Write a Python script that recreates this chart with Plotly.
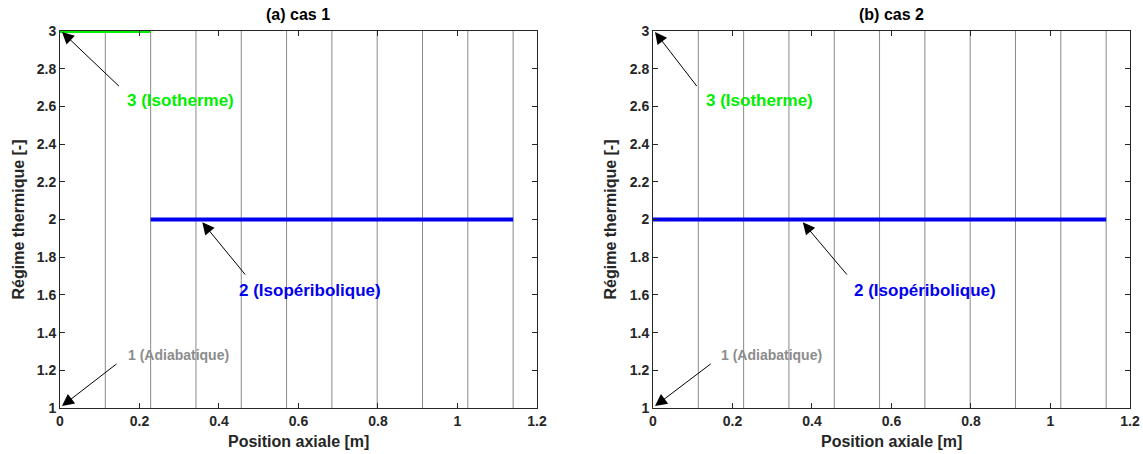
import plotly.graph_objects as go

# Data
grid_x = [0.114, 0.228, 0.342, 0.456, 0.570, 0.684, 0.798, 0.912, 1.026, 1.140]
case1_iso_x = [0.0, 0.228]
case1_iso_y = [3, 3]
case1_isop_x = [0.228, 1.14]
case1_isop_y = [2, 2]
case2_isop_x = [0.0, 1.14]
case2_isop_y = [2, 2]
titles = ["(a) cas 1", "(b) cas 2"]
x_ticks = [0, 0.2, 0.4, 0.6, 0.8, 1, 1.2]
x_tick_labels = ["0", "0.2", "0.4", "0.6", "0.8", "1", "1.2"]
y_ticks = [1, 1.2, 1.4, 1.6, 1.8, 2, 2.2, 2.4, 2.6, 2.8, 3]
y_tick_labels = ["1", "1.2", "1.4", "1.6", "1.8", "2", "2.2", "2.4", "2.6", "2.8", "3"]

# annotations: (label, color, arrow head (x,y), arrow tail (x,y), text pos (x,y), size)
ann_case1 = [
    ("3 (Isotherme)", "#00ee00", (0.005, 2.995), (0.152, 2.70), (0.304, 2.63), 17),
    ("2 (Isopéribolique)", "#0000ee", (0.358, 1.985), (0.469, 1.70), (0.629, 1.626), 17),
    ("1 (Adiabatique)", "#8c8c8c", (0.005, 1.01), (0.146, 1.24), (0.297, 1.283), 14),
]
ann_case2 = [
    ("3 (Isotherme)", "#00ee00", (0.005, 2.995), (0.113, 2.70), (0.269, 2.63), 17),
    ("2 (Isopéribolique)", "#0000ee", (0.377, 1.985), (0.491, 1.70), (0.684, 1.626), 17),
    ("1 (Adiabatique)", "#8c8c8c", (0.005, 1.01), (0.149, 1.24), (0.297, 1.283), 14),
]

FONT = "Liberation Sans"
fig = go.Figure()

def grid_trace(xa, ya):
    xs, ys = [], []
    for g in grid_x:
        xs += [g, g, None]
        ys += [1, 3, None]
    return go.Scatter(x=xs, y=ys, mode="lines", line=dict(color="#8a8a8a", width=1),
                      xaxis=xa, yaxis=ya, hoverinfo="skip", showlegend=False)

fig.add_trace(grid_trace("x", "y"))
fig.add_trace(grid_trace("x2", "y2"))
fig.add_trace(go.Scatter(x=case1_iso_x, y=case1_iso_y, mode="lines",
                         line=dict(color="#00ee00", width=4), xaxis="x", yaxis="y",
                         showlegend=False))
fig.add_trace(go.Scatter(x=case1_isop_x, y=case1_isop_y, mode="lines",
                         line=dict(color="#0000ee", width=4), xaxis="x", yaxis="y",
                         showlegend=False))
fig.add_trace(go.Scatter(x=case2_isop_x, y=case2_isop_y, mode="lines",
                         line=dict(color="#0000ee", width=4), xaxis="x2", yaxis="y2",
                         showlegend=False))
for tr in fig.data:
    tr.cliponaxis = False

doms = [(0.0525, 0.4698), (0.5713, 0.9886)]
ydom = [1 - 408 / 454, 1 - 31 / 454]

annotations = []
for anns, xr, yr in [(ann_case1, "x", "y"), (ann_case2, "x2", "y2")]:
    for label, col, head, tail, tpos, size in anns:
        annotations.append(dict(x=head[0], y=head[1], ax=tail[0], ay=tail[1],
                                xref=xr, yref=yr, axref=xr, ayref=yr, text="",
                                showarrow=True, arrowhead=2, arrowsize=2.4,
                                arrowwidth=1, arrowcolor="black"))
        annotations.append(dict(x=tpos[0], y=tpos[1], xref=xr, yref=yr, text="<b>%s</b>" % label,
                                xanchor="center", yanchor="middle",
                                showarrow=False, font=dict(family=FONT, size=size, color=col)))

for i, t in enumerate(titles):
    cx = sum(doms[i]) / 2
    annotations.append(dict(x=cx, y=1 - 14 / 454, xref="paper", yref="paper", text="<b>%s</b>" % t,
                            showarrow=False, font=dict(family=FONT, size=16, color="black"),
                            xanchor="center", yanchor="middle"))
    annotations.append(dict(x=cx, y=1 - 441 / 454, xref="paper", yref="paper",
                            text="<b>Position axiale [m]</b>", showarrow=False,
                            font=dict(family=FONT, size=16, color="#262626"),
                            xanchor="center", yanchor="middle"))
    annotations.append(dict(x=doms[i][0] - 42 / 1143, y=sum(ydom) / 2, xref="paper", yref="paper",
                            text="<b>Régime thermique [-]</b>", showarrow=False, textangle=-90,
                            font=dict(family=FONT, size=16, color="#262626"),
                            xanchor="center", yanchor="middle"))

def xaxis_cfg(dom, anchor):
    return dict(domain=list(dom), anchor=anchor, range=[0, 1.2], tickvals=x_ticks,
                ticktext=["<b>%s</b>" % s for s in x_tick_labels], automargin=False,
                ticks="inside", ticklen=5, tickcolor="#262626", showline=True, linecolor="#262626",
                linewidth=1, mirror="ticks", showgrid=False, zeroline=False,
                tickfont=dict(family=FONT, size=14, color="#262626"))

def yaxis_cfg(anchor):
    return dict(domain=ydom, anchor=anchor, range=[1, 3], tickvals=y_ticks,
                ticktext=["<b>%s</b>" % s for s in y_tick_labels], automargin=False,
                ticks="inside", ticklen=5, tickcolor="#262626", showline=True, linecolor="#262626",
                linewidth=1, mirror="ticks", showgrid=False, zeroline=False,
                tickfont=dict(family=FONT, size=14, color="#262626"))

fig.update_layout(
    width=1143, height=454, margin=dict(l=0, r=0, t=0, b=0, autoexpand=False),
    plot_bgcolor="white", paper_bgcolor="white",
    xaxis=xaxis_cfg(doms[0], "y"),
    yaxis=yaxis_cfg("x"),
    xaxis2=xaxis_cfg(doms[1], "y2"),
    yaxis2=yaxis_cfg("x2"),
    annotations=annotations,
    showlegend=False,
)

fig.write_html("out.html", config={"displayModeBar": False},
               post_script="document.body.style.margin='0';document.body.style.overflow='hidden';")
